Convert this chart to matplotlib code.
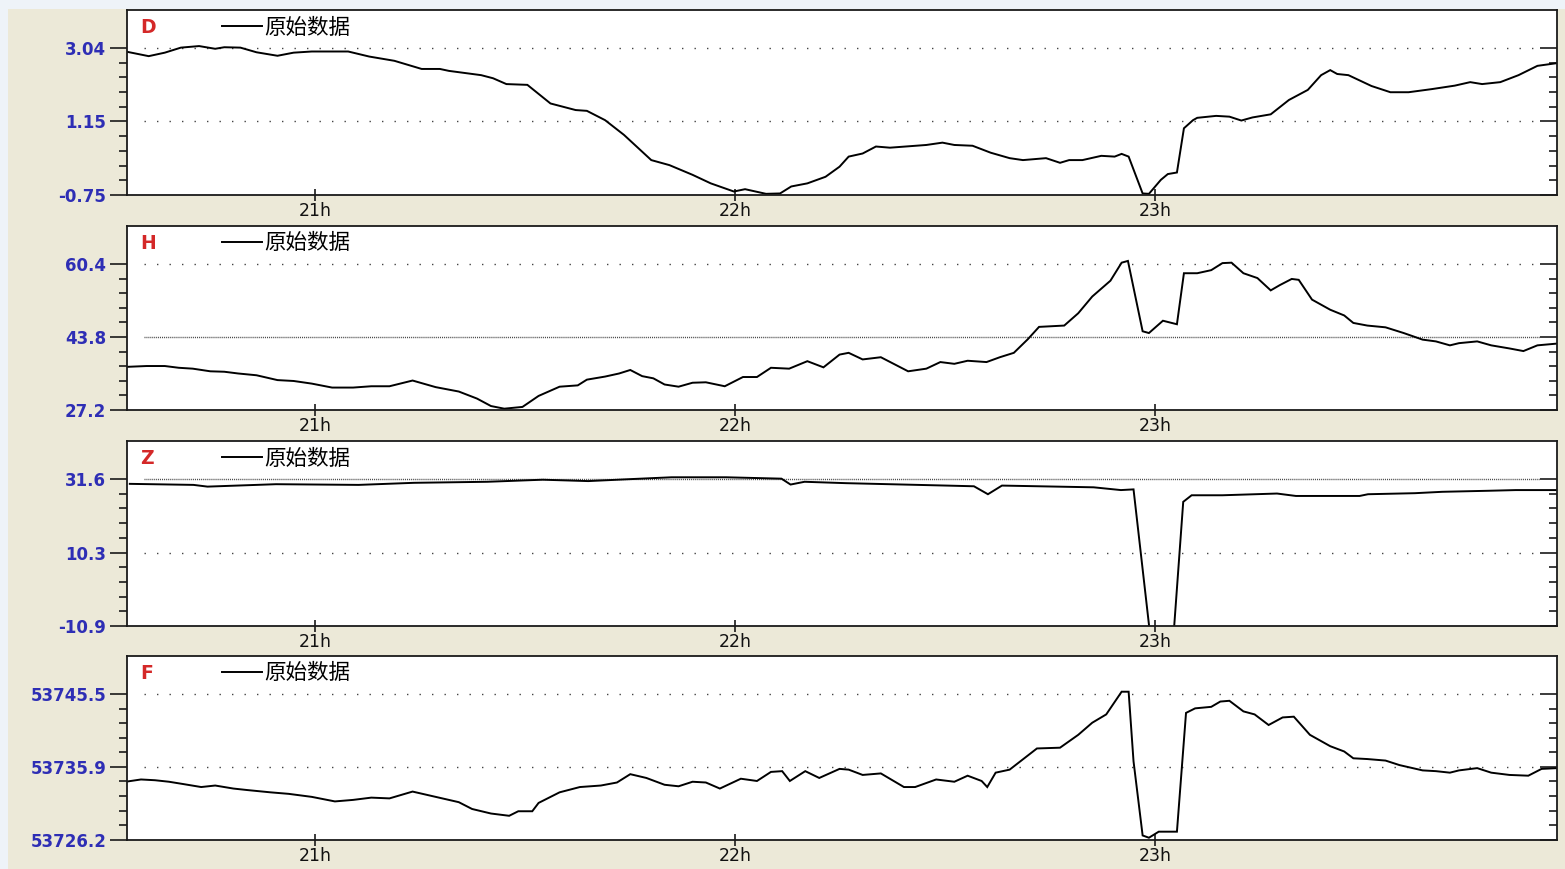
import numpy as np
import matplotlib
matplotlib.use('Agg')
import matplotlib.pyplot as plt
from matplotlib.ticker import FixedLocator, NullFormatter
from matplotlib.patches import Rectangle

plt.rcParams['font.family'] = ['DejaVu Sans', 'Noto Sans CJK SC']

""" Data (time in minutes after 20:00) """

t_D = [32.9, 36.2, 38.5, 40.8, 43.4, 45.7, 47.0, 49.3, 51.6, 54.6, 56.9, 59.5, 64.7, 67.7,
       71.3, 75.2, 77.8, 79.1, 83.7, 85.4, 87.3, 90.3, 93.6, 97.2, 98.8, 101.4, 104.1, 108.0,
       110.6, 113.9, 116.5, 119.8, 121.4, 124.4, 126.4, 128.0, 130.3, 132.9, 134.9, 136.2,
       138.2, 140.1, 142.1, 147.3, 149.6, 151.3, 153.9, 156.5, 159.2, 161.1, 164.4, 166.4,
       167.7, 169.6, 172.3, 174.2, 175.2, 176.2, 178.2, 179.1, 180.8, 181.8, 183.1, 184.1,
       185.4, 186.0, 188.7, 190.6, 192.3, 193.9, 196.5, 199.1, 201.8, 203.7, 205.0, 206.0,
       207.6, 210.9, 213.6, 216.2, 219.5, 222.8, 225.0, 226.7, 229.3, 231.9, 234.6, 237.4]
v_D = [2.95, 2.83, 2.92, 3.05, 3.09, 3.02, 3.06, 3.05, 2.93, 2.84, 2.92, 2.95, 2.95, 2.82,
       2.71, 2.50, 2.50, 2.45, 2.34, 2.26, 2.11, 2.09, 1.61, 1.44, 1.42, 1.18, 0.80, 0.15,
       0.02, -0.23, -0.45, -0.66, -0.60, -0.72, -0.71, -0.53, -0.45, -0.28, -0.02, 0.24,
       0.32, 0.50, 0.47, 0.54, 0.60, 0.54, 0.52, 0.34, 0.20, 0.15, 0.20, 0.08,
       0.15, 0.15, 0.26, 0.24, 0.31, 0.24, -0.71, -0.72, -0.36, -0.21, -0.17, 0.97,
       1.18, 1.24, 1.29, 1.27, 1.17, 1.25, 1.33, 1.70, 1.96, 2.34, 2.47, 2.37,
       2.34, 2.06, 1.90, 1.90, 1.98, 2.07, 2.16, 2.11, 2.16, 2.34, 2.58, 2.65]

t_H = [32.9, 35.9, 38.5, 40.5, 42.5, 45.0, 47.0, 49.0, 51.6, 54.6, 56.9, 59.5, 62.4, 65.4,
       68.0, 70.6, 73.9, 77.2, 80.5, 83.1, 85.1, 87.0, 89.6, 91.9, 94.9, 97.5, 98.8, 101.4,
       103.4, 105.0, 106.7, 108.3, 109.9, 111.9, 113.9, 115.8, 118.5, 121.1, 123.1, 125.1,
       127.7, 130.3, 132.6, 134.9, 136.2, 138.2, 140.8, 144.7, 147.3, 149.3, 151.3, 153.2,
       155.9, 157.8, 159.8, 161.8, 163.4, 167.0, 169.0, 171.0, 173.6, 175.2, 176.1, 178.2,
       179.1, 181.1, 183.1, 184.1, 186.0, 188.0, 189.6, 190.9, 192.6, 194.6, 196.5, 197.8,
       199.5, 200.5, 202.4, 205.0, 207.0, 208.3, 210.3, 212.9, 215.5, 218.2, 220.1, 222.1,
       223.4, 226.0, 228.0, 230.6, 232.6, 234.6, 237.4]
v_H = [37.0, 37.2, 37.2, 36.8, 36.6, 36.0, 35.9, 35.5, 35.1, 34.0, 33.8, 33.2, 32.3, 32.3,
       32.6, 32.6, 33.9, 32.4, 31.4, 29.8, 28.1, 27.5, 27.9, 30.4, 32.5, 32.8, 34.1, 34.8,
       35.5, 36.3, 34.9, 34.4, 33.0, 32.5, 33.4, 33.5, 32.6, 34.7, 34.7, 36.8,
       36.6, 38.3, 36.9, 39.8, 40.2, 38.7, 39.2, 36.0, 36.6, 38.1, 37.7, 38.4,
       38.1, 39.2, 40.2, 43.3, 46.1, 46.4, 49.2, 53.0, 56.6, 60.7, 61.1, 45.1,
       44.7, 47.5, 46.7, 58.3, 58.3, 59.0, 60.6, 60.7, 58.3, 57.2, 54.4, 55.6,
       57.0, 56.8, 52.3, 50.0, 48.7, 47.0, 46.4, 46.0, 44.7, 43.2, 42.8, 41.9,
       42.4, 42.8, 41.9, 41.2, 40.6, 41.9, 42.3]

t_Z = [33.5, 42.6, 44.6, 54.4, 66.2, 74.1, 84.6, 92.5, 99.0, 104.3, 110.9, 118.7, 126.6,
       127.9, 129.9, 135.8, 150.2, 154.1, 156.1, 158.1, 171.2, 175.1, 176.9, 179.3, 182.6,
       184.0, 185.2, 189.6, 197.4, 200.1, 209.2, 210.4, 217.1, 221.0, 227.6, 231.5, 237.4]
v_Z = [30.2, 29.9, 29.4, 30.1, 29.9, 30.5, 30.8, 31.4, 31.0, 31.5, 32.1, 32.1, 31.7,
       30.0, 30.8, 30.4, 29.7, 29.5, 27.2, 29.7, 29.2, 28.4, 28.6, -14.0, -14.0,
       25.0, 26.9, 26.9, 27.4, 26.7, 26.7, 27.2, 27.5, 27.9, 28.2, 28.4, 28.4]

t_F = [32.9, 35.1, 37.1, 39.1, 41.1, 43.7, 45.7, 48.3, 50.3, 53.6, 56.2, 59.5, 62.8, 65.4,
       68.0, 70.6, 73.9, 77.2, 80.5, 82.4, 85.1, 87.7, 89.0, 91.0, 91.9, 94.9, 97.8, 100.8,
       103.1, 105.0, 107.3, 109.9, 111.9, 113.9, 115.8, 117.8, 120.8, 123.1, 125.1, 126.7,
       127.8, 130.0, 132.0, 134.9, 136.2, 138.2, 140.8, 144.1, 145.7, 148.7, 151.3, 153.2,
       155.2, 156.0, 157.2, 159.2, 163.1, 166.4, 169.0, 171.0, 173.0, 175.2, 176.2, 176.9,
       178.2, 179.1, 180.5, 183.1, 184.4, 185.7, 188.0, 189.3, 190.6, 192.6, 194.2, 196.2,
       198.2, 199.8, 202.1, 205.0, 207.0, 208.3, 210.3, 212.9, 214.9, 218.2, 220.1, 222.1,
       223.4, 226.0, 228.0, 230.6, 233.3, 235.2, 237.4]
v_F = [53733.9, 53734.2, 53734.1, 53733.9, 53733.6, 53733.2, 53733.4, 53733.0, 53732.8,
       53732.5, 53732.3, 53731.9, 53731.3, 53731.5, 53731.8, 53731.7, 53732.6, 53731.9,
       53731.2, 53730.3, 53729.7, 53729.4, 53730.0, 53730.0, 53731.1, 53732.5, 53733.2,
       53733.4, 53733.8, 53734.9, 53734.4, 53733.5, 53733.3, 53733.9, 53733.8, 53733.0,
       53734.3, 53734.0, 53735.2, 53735.3, 53734.0, 53735.3, 53734.4, 53735.6, 53735.5,
       53734.8, 53735.0, 53733.2, 53733.2, 53734.2, 53733.9, 53734.7, 53734.0, 53733.2,
       53735.1, 53735.5, 53738.3, 53738.4, 53740.1, 53741.7, 53742.8, 53745.8, 53745.8,
       53736.6, 53726.8, 53726.5, 53727.3, 53727.3, 53743.0, 53743.6, 53743.8, 53744.5,
       53744.6, 53743.2, 53742.8, 53741.4, 53742.4, 53742.5, 53740.1, 53738.6, 53737.9,
       53737.0, 53736.9, 53736.7, 53736.1, 53735.4, 53735.3, 53735.1, 53735.4, 53735.7,
       53735.1, 53734.8, 53734.7, 53735.6, 53735.7]

names = ['D', 'H', 'Z', 'F']
series_t = [t_D, t_H, t_Z, t_F]
series_v = [v_D, v_H, v_Z, v_F]
major_ticks = [[-0.75, 1.15, 3.04], [27.2, 43.8, 60.4], [-10.9, 10.3, 31.6], [53726.2, 53735.9, 53745.5]]
tick_text = [['-0.75', '1.15', '3.04'], ['27.2', '43.8', '60.4'], ['-10.9', '10.3', '31.6'],
             ['53726.2', '53735.9', '53745.5']]
y_top = [4.02, 69.04, 42.59, 53750.52]
hour_ticks = [21, 22, 23]
hour_labels = ['21h', '22h', '23h']
legend_label = '原始数据'

""" Plot """

W, H = 1565, 869
fig = plt.figure(figsize=(W / 100, H / 100), dpi=100, facecolor='#ECE9D8')
# light window strip along top and left edges
fig.patches.append(Rectangle((0, 1 - 9 / H), 1, 9 / H, transform=fig.transFigure,
                             facecolor='#EEF3F8', edgecolor='none', zorder=0))
fig.patches.append(Rectangle((0, 0), 8 / W, 1, transform=fig.transFigure,
                             facecolor='#EEF3F8', edgecolor='none', zorder=0))

tops = [10, 226, 441, 656]
bottoms = [195, 410, 626, 840]
left_px, right_px = 127, 1557
xlo, xhi = 20 + 33.1 / 60, 20 + 237.4 / 60

for i in range(4):
    ax = fig.add_axes([left_px / W, 1 - bottoms[i] / H, (right_px - left_px) / W,
                       (bottoms[i] - tops[i]) / H])
    ax.set_facecolor('white')
    hours = 20 + np.array(series_t[i]) / 60.0
    line, = ax.plot(hours, series_v[i], color='black', lw=1.4, solid_joinstyle='miter')
    ax.set_xlim(xlo, xhi)
    ymaj = major_ticks[i]
    ax.set_ylim(ymaj[0], y_top[i])

    for s in ax.spines.values():
        s.set_color('#1a1a1a')
        s.set_linewidth(1.3)

    # dotted reference lines at the upper two levels
    for k, yv in enumerate(ymaj[1:]):
        dense = (i == 1 and k == 0) or (i == 2 and k == 1)
        ls = (0, (0.7, 0.7)) if dense else (0, (1, 8))
        ax.axhline(yv, xmin=0.012, xmax=0.988, color='#444444', lw=1.0, ls=ls, zorder=1)

    minors = []
    for a, b in zip(ymaj[:-1], ymaj[1:]):
        minors.extend(np.linspace(a, b, 6)[1:-1])
    ax.yaxis.set_major_locator(FixedLocator(ymaj))
    ax.yaxis.set_minor_locator(FixedLocator(minors))
    ax.set_yticklabels(tick_text[i])
    ax.yaxis.set_minor_formatter(NullFormatter())
    ax.tick_params(axis='y', which='major', direction='out', length=12, width=1.2,
                   color='#1a1a1a', pad=3, labelsize=12, labelcolor='#2E2EB5',
                   right=True)
    ax.tick_params(axis='y', which='minor', direction='out', length=6, width=1.2,
                   color='#1a1a1a', right=True)
    for lab in ax.get_yticklabels():
        lab.set_fontweight('bold')
    # right side ticks point inward
    for tk in ax.yaxis.get_major_ticks() + ax.yaxis.get_minor_ticks():
        tk.tick2line.set_marker(matplotlib.lines.TICKLEFT)

    ax.set_xticks(hour_ticks)
    ax.set_xticklabels(hour_labels)
    ax.tick_params(axis='x', direction='inout', length=8, width=1.2, color='#1a1a1a',
                   pad=1, labelsize=12.5, labelcolor='#111111')

    ax.text(0.009, 0.905, names[i], transform=ax.transAxes, color='#D42828',
            fontsize=13.5, fontweight='bold', va='center', ha='left')
    ax.legend([line], [legend_label], loc='center left', bbox_to_anchor=(0.0664, 0.905),
              frameon=False, borderpad=0, borderaxespad=0, handlelength=1.85,
              handletextpad=0.1, prop={'family': ['Noto Sans CJK SC', 'DejaVu Sans'], 'size': 15.5})

fig.savefig('out.png', dpi=100, facecolor=fig.get_facecolor())
